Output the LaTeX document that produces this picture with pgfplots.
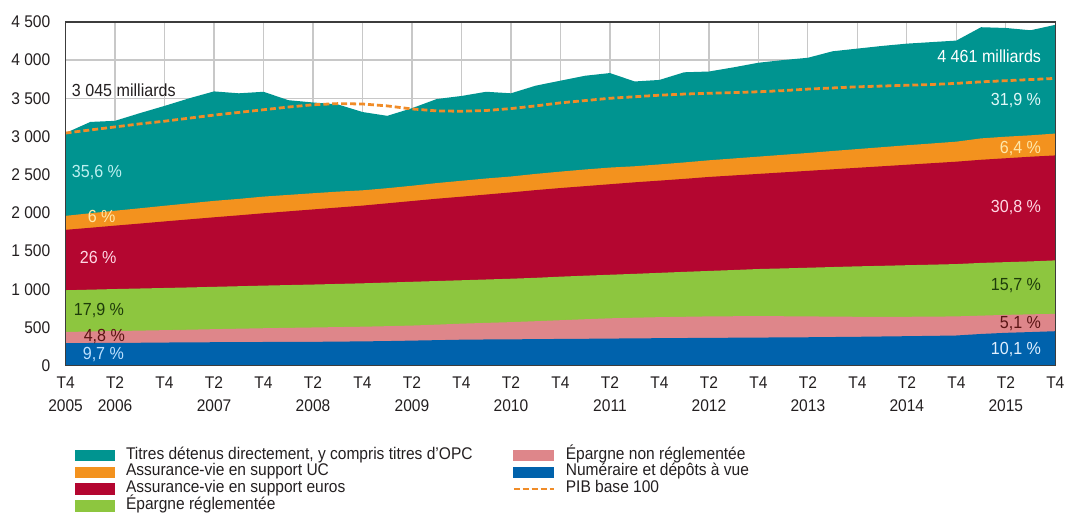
\documentclass[border=0pt]{standalone}
\usepackage{fontspec}
\setmainfont{Liberation Sans}[FakeStretch=0.92]
\usepackage{pgfplots}
\pgfplotsset{compat=1.18}
\usepackage{pgfplotstable}

\definecolor{cteal}{RGB}{0,148,144}
\definecolor{corange}{RGB}{243,146,30}
\definecolor{cred}{RGB}{180,6,48}
\definecolor{cgreen}{RGB}{141,198,63}
\definecolor{cpink}{RGB}{222,134,138}
\definecolor{cblue}{RGB}{0,98,172}
\definecolor{cpib}{RGB}{240,140,40}
\definecolor{ctxt}{RGB}{35,31,32}
\definecolor{cgrid}{RGB}{200,200,200}

% cumulative tops of the stacked layers (milliards d'euros)
\pgfplotstableread{
i  B   P   G    R    O    T    PIB
0  295 441 987  1778 1961 3045 3045
1  297 447 995  1805 1995 3190 3085
2  298 453 1003 1833 2028 3205 3125
3  300 459 1010 1860 2060 3305 3165
4  303 465 1017 1888 2093 3400 3200
5  305 471 1024 1915 2125 3500 3240
6  307 478 1032 1942 2157 3590 3280
7  308 484 1040 1968 2183 3565 3315
8  310 490 1048 1995 2213 3585 3350
9  312 495 1055 2020 2235 3475 3385
10 312 500 1062 2045 2257 3445 3415
11 315 505 1070 2070 2278 3420 3430
12 318 510 1078 2095 2295 3320 3425
13 322 517 1088 2125 2323 3270 3400
14 328 525 1098 2155 2355 3370 3360
15 334 537 1108 2185 2390 3490 3335
16 340 550 1118 2212 2420 3530 3330
17 343 560 1128 2240 2450 3585 3340
18 345 570 1138 2268 2476 3565 3365
19 347 582 1150 2298 2510 3665 3400
20 350 595 1165 2325 2540 3730 3440
21 352 608 1178 2350 2568 3795 3470
22 355 620 1190 2375 2593 3830 3500
23 357 628 1202 2400 2610 3720 3520
24 360 635 1215 2422 2634 3740 3540
25 362 640 1228 2445 2660 3840 3555
26 364 645 1240 2470 2688 3850 3565
27 366 647 1252 2490 2712 3905 3575
28 368 648 1265 2510 2736 3965 3585
29 370 647 1273 2530 2760 4000 3600
30 372 645 1282 2550 2784 4030 3620
31 375 642 1291 2570 2810 4115 3635
32 378 640 1300 2590 2835 4150 3650
33 382 640 1307 2610 2860 4185 3660
34 386 640 1315 2630 2885 4215 3670
35 390 642 1322 2650 2908 4235 3680
36 395 645 1330 2670 2932 4255 3695
37 415 655 1345 2695 2975 4430 3715
38 430 665 1355 2715 2997 4420 3730
39 440 672 1365 2735 3015 4390 3745
40 451 678 1378 2752 3038 4461 3760
}\data

\pgfplotsset{
  sw/.style={legend image code/.code={\fill[#1] (0pt,-2.6pt) rectangle (20pt,2.6pt);}},
  dl/.style={legend image code/.code={\draw[#1, line width=1.4pt, dash pattern=on 3pt off 1.5pt] (0pt,0pt) -- (20pt,0pt);}},
}

\begin{document}
\begin{tikzpicture}
\begin{axis}[
  name=ax,
  scale only axis, width=498pt, height=173pt,
  xmin=0, xmax=40, ymin=0, ymax=4500,
  xtick={0,2,...,40},
  xticklabels={{T4\\2005},{T2\\2006},T4,{T2\\2007},T4,{T2\\2008},T4,{T2\\2009},T4,{T2\\2010},T4,{T2\\2011},T4,{T2\\2012},T4,{T2\\2013},T4,{T2\\2014},T4,{T2\\2015},T4},
  xticklabel style={align=center, font=\fontsize{8.5}{11.5}\selectfont, text=ctxt, yshift=-2.2pt},
  ytick={0,500,...,4500},
  yticklabels={0,500,1 000,1 500,2 000,2 500,3 000,3 500,4 000,4 500},
  yticklabel style={font=\fontsize{8.5}{10}\selectfont, text=ctxt, xshift=-4.2pt},
  grid=major,
  major grid style={cgrid, line width=0.6pt},
  major tick length=0pt,
  axis line style={draw=none},
  axis on top=false,
  legend columns=4,
  transpose legend,
  legend style={at={(axis description cs:0,0)}, anchor=north west,
    xshift=4.5pt, yshift=-40.8pt, draw=none, fill=none, inner sep=0pt, outer sep=0pt,
    font=\fontsize{8.5}{10}\selectfont, text=ctxt,
    nodes={inner sep=0pt, text height=6.2pt, text depth=2.3pt},
    row sep=0pt,
    /tikz/column 1/.style={column sep=5.5pt},
    /tikz/column 2/.style={column sep=20pt},
    /tikz/column 3/.style={column sep=5.5pt}},
  legend cell align=left,
]
\addplot[fill=cteal, draw=none, forget plot] table[x=i, y=T] {\data} \closedcycle;
\addplot[fill=corange, draw=none, forget plot] table[x=i, y=O] {\data} \closedcycle;
\addplot[fill=cred, draw=none, forget plot] table[x=i, y=R] {\data} \closedcycle;
\addplot[fill=cgreen, draw=none, forget plot] table[x=i, y=G] {\data} \closedcycle;
\addplot[fill=cpink, draw=none, forget plot] table[x=i, y=P] {\data} \closedcycle;
\addplot[fill=cblue, draw=none, forget plot] table[x=i, y=B] {\data} \closedcycle;
\addplot[cpib, line width=1.4pt, dash pattern=on 3pt off 1.5pt, forget plot] table[x=i, y=PIB] {\data};

\addlegendimage{sw=cteal}\addlegendentry{Titres détenus directement, y compris titres d'OPC}
\addlegendimage{sw=corange}\addlegendentry{Assurance-vie en support UC}
\addlegendimage{sw=cred}\addlegendentry{Assurance-vie en support euros}
\addlegendimage{sw=cgreen}\addlegendentry{Épargne réglementée}
\addlegendimage{sw=cpink}\addlegendentry{Épargne non réglementée}
\addlegendimage{sw=cblue}\addlegendentry{Numéraire et dépôts à vue}
\addlegendimage{dl=cpib}\addlegendentry{PIB base 100}
\addlegendimage{empty legend}\addlegendentry{}

\tikzset{lab/.style={inner sep=0pt, font=\fontsize{8.8}{10}\selectfont}}
\node[lab, anchor=west, text=ctxt] at (axis cs:0.24,3607) {3 045 milliards};
\node[lab, anchor=west, text={rgb,255:red,190;green,240;blue,240}] at (axis cs:0.24,2530) {35,6 \%};
\node[lab, anchor=west, text={rgb,255:red,255;green,232;blue,170}] at (axis cs:0.88,1953) {6 \%};
\node[lab, anchor=west, text={rgb,255:red,255;green,215;blue,228}] at (axis cs:0.56,1419) {26 \%};
\node[lab, anchor=west, text={rgb,255:red,30;green,60;blue,10}] at (axis cs:0.32,716) {17,9 \%};
\node[lab, anchor=west, text={rgb,255:red,90;green,20;blue,20}] at (axis cs:0.72,378) {4,8 \%};
\node[lab, anchor=west, text={rgb,255:red,190;green,225;blue,255}] at (axis cs:0.68,143) {9,7 \%};

\node[lab, anchor=east, text=white] at (axis cs:39.44,4049) {4 461 milliards};
\node[lab, anchor=east, text={rgb,255:red,225;green,248;blue,248}] at (axis cs:39.44,3476) {31,9 \%};
\node[lab, anchor=east, text={rgb,255:red,255;green,232;blue,170}] at (axis cs:39.44,2838) {6,4 \%};
\node[lab, anchor=east, text={rgb,255:red,255;green,215;blue,228}] at (axis cs:39.44,2070) {30,8 \%};
\node[lab, anchor=east, text={rgb,255:red,30;green,60;blue,10}] at (axis cs:39.44,1055) {15,7 \%};
\node[lab, anchor=east, text={rgb,255:red,90;green,20;blue,20}] at (axis cs:39.44,547) {5,1 \%};
\node[lab, anchor=east, text={rgb,255:red,225;green,240;blue,255}] at (axis cs:39.44,208) {10,1 \%};
\end{axis}
\draw[draw={rgb,255:red,60;green,60;blue,60}, line width=0.8pt] (ax.south west) rectangle (ax.north east);
\path ([xshift=-33pt,yshift=-77.5pt]ax.south west) rectangle ([xshift=4.5pt,yshift=11pt]ax.north east);
\end{tikzpicture}
\end{document}
